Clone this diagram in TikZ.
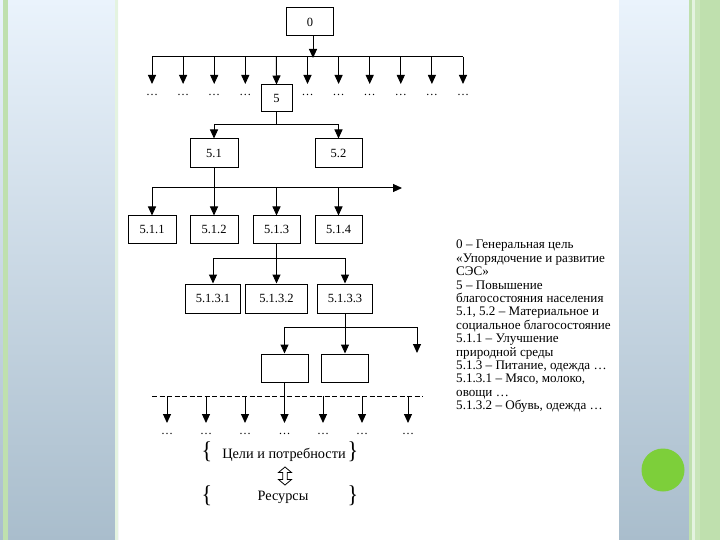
\documentclass[tikz,border=0pt]{standalone}
\usepackage{fontspec}
\setmainfont{Liberation Serif}
\usetikzlibrary{arrows.meta}
\definecolor{bgtop}{HTML}{EAF3FC}
\definecolor{bgmid}{HTML}{CFE2F5}
\definecolor{bgbot}{HTML}{A9BDCC}
\definecolor{stripe}{HTML}{BFE0AE}
\definecolor{stripelt}{HTML}{E4F3E0}
\definecolor{dotgreen}{HTML}{7DCF3A}
\begin{document}
\begin{tikzpicture}[x=1pt,y=-1pt,
  box/.style={draw, line width=1pt, inner sep=0pt, font=\fontsize{12.5}{12.5}\selectfont},
  arr/.style={-{Triangle[width=8pt,length=9pt]}, line width=1pt},
  ln/.style={line width=1pt},
  dotsn/.style={inner sep=0pt, font=\fontsize{12}{12}\selectfont},
  brace/.style={inner sep=0pt, font=\fontsize{22}{22}\selectfont, yscale=1.1},
  lbl/.style={inner sep=0pt, font=\fontsize{14.3}{14.3}\selectfont}]
\useasboundingbox (0,0) rectangle (720,540);
% background
\fill[white] (0,0) rectangle (720,540);
\shade[top color=bgtop, middle color=bgmid, bottom color=bgbot] (0,0) rectangle (118,540);
\fill[stripe] (3,0) rectangle (8,540);
\fill[stripelt] (115,0) rectangle (118,540);
\shade[top color=bgtop, middle color=bgmid, bottom color=bgbot] (619,0) rectangle (692,540);
\fill[stripe] (689,0) rectangle (692,540);
\fill[stripelt] (692,0) rectangle (695,540);
\fill[stripe!85!white] (695,0) rectangle (700,540);
\fill[stripe] (700,0) rectangle (720,540);
\fill[dotgreen] (663,470) circle (21.5);

% level 0
\node[box, minimum width=47pt, minimum height=28pt] (b0) at (310,22) {0};
\coordinate (h1) at (313,58);
\draw[arr] (313,36) -- (h1);
\coordinate (h1l) at (152,57);
\coordinate (h1r) at (463,57);
\draw[ln] (h1l) -- (h1r);
\foreach \i in {0,...,10} {
  \pgfmathsetmacro{\xx}{152+31.1*\i}
  \coordinate (t\i) at (\xx,57);
  \coordinate (d\i) at (\xx,84);
}
\foreach \i in {0,1,2,3,5,6,7,8,9,10} {
  \draw[arr] (t\i) -- (d\i);
  \node[dotsn] (e\i) at ([yshift=-11pt]d\i) {\dots};
}
% box 5
\node[box, minimum width=31pt, minimum height=27pt] (b5) at (276.5,98.5) {5};
\draw[arr] (t4) -- (b5.north);

% level 5.1/5.2
\node[box, minimum width=48pt, minimum height=29pt] (b51) at (214,153.5) {5.1};
\node[box, minimum width=47pt, minimum height=29pt] (b52) at (338.5,153.5) {5.2};
\coordinate (h2) at (276.5,125);
\draw[ln] (b5.south) -- (h2);
\draw[ln] (b51.north |- h2) -- (b52.north |- h2);
\draw[arr] (b51.north |- h2) -- (b51.north);
\draw[arr] (b52.north |- h2) -- (b52.north);

% level 5.1.x
\node[box, minimum width=48pt, minimum height=27pt] (b511) at (152,229.5) {5.1.1};
\node[box, minimum width=48pt, minimum height=27pt] (b512) at (214,229.5) {5.1.2};
\node[box, minimum width=47pt, minimum height=27pt] (b513) at (276.5,229.5) {5.1.3};
\node[box, minimum width=47pt, minimum height=27pt] (b514) at (338.5,229.5) {5.1.4};
\coordinate (h3) at (214,188);
\coordinate (h3r) at (402,188);
\draw[ln] (b51.south) -- (h3);
\draw[arr] (b511.north |- h3) -- (h3r);
\foreach \n in {b511,b512,b513,b514} \draw[arr] (\n.north |- h3) -- (\n.north);

% level 5.1.3.x
\node[box, minimum width=55pt, minimum height=29pt] (b5131) at (213,298.5) {5.1.3.1};
\node[box, minimum width=62pt, minimum height=29pt] (b5132) at (276.5,298.5) {5.1.3.2};
\node[box, minimum width=55pt, minimum height=29pt] (b5133) at (345,298.5) {5.1.3.3};
\coordinate (h4) at (276.5,258);
\draw[ln] (b513.south) -- (h4);
\draw[ln] (b5131.north |- h4) -- (b5133.north |- h4);
\foreach \n in {b5131,b5132,b5133} \draw[arr] (\n.north |- h4) -- (\n.north);

% next level
\node[box, minimum width=47pt, minimum height=28pt] (x1) at (284.5,368) {};
\node[box, minimum width=47pt, minimum height=28pt] (x2) at (345,368) {};
\coordinate (h5) at (345,327);
\coordinate (h5r) at (417,327);
\coordinate (x3) at (417,353);
\draw[ln] (b5133.south) -- (h5);
\draw[ln] (x1.north |- h5) -- (h5r);
\draw[arr] (x1.north |- h5) -- (x1.north);
\draw[arr] (x2.north |- h5) -- (x2.north);
\draw[arr] (h5r) -- (x3);

% dashed level
\coordinate (h6l) at (152,396);
\coordinate (h6r) at (423,396);
\draw[ln, dash pattern=on 5pt off 2.5pt] (h6l) -- (h6r);
\foreach \j/\xx in {0/167,1/206,2/245,4/323,5/362,6/408} {
  \coordinate (u\j) at (\xx,396);
  \coordinate (v\j) at (\xx,423);
  \draw[arr] (u\j) -- (v\j);
}
\coordinate (v3) at (284.5,423);
\draw[arr] (x1.south) -- (v3);
\foreach \j in {0,...,6} \node[dotsn] (f\j) at ([yshift=-10.5pt]v\j) {\dots};

% bottom labels
\node[lbl] (goals) at (284,455) {Цели и потребности};
\node[brace] (gl) at (207,452) {\{};
\node[brace] (gr) at (353,452) {\}};
\draw[line width=0.8pt, fill=white] (285,467) -- (291.5,472.5) -- (287.2,472.5) -- (287.2,479.5) -- (291.5,479.5) -- (285,485) -- (278.5,479.5) -- (282.8,479.5) -- (282.8,472.5) -- (278.5,472.5) -- cycle;
\node[lbl] (res) at (283,497) {Ресурсы};
\node[brace] (rl) at (207,496) {\{};
\node[brace] (rr) at (353,496) {\}};

% legend
\node[anchor=north west, inner sep=0pt, align=left, font=\fontsize{13.1}{13.4}\selectfont] (legend) at (456,240) {0 – Генеральная цель\\
«Упорядочение и развитие\\
СЭС»\\
5 – Повышение\\
благосостояния населения\\
5.1, 5.2 – Материальное и\\
социальное благосостояние\\
5.1.1 – Улучшение\\
природной среды\\
5.1.3 – Питание, одежда …\\
5.1.3.1 – Мясо, молоко,\\
овощи …\\
5.1.3.2 – Обувь, одежда …};
\end{tikzpicture}
\end{document}
